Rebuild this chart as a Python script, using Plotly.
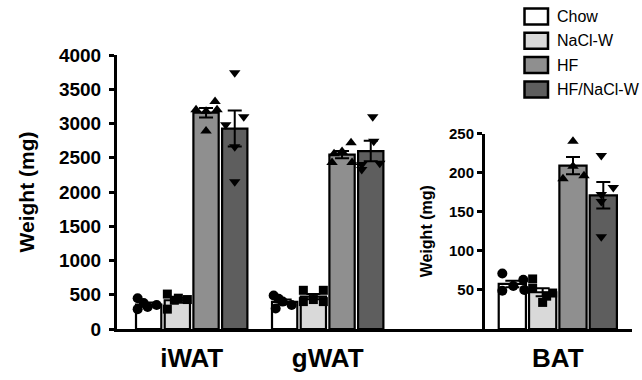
import plotly.graph_objects as go

# ---------------- data ----------------
groups = ["iWAT", "gWAT", "BAT"]
series = ["Chow", "NaCl-W", "HF", "HF/NaCl-W"]

mean_chow = [358, 396, 57.6]
mean_nacl = [420, 472, 47]
mean_hf = [3158, 2546, 209]
mean_hfnacl = [2926, 2598, 171]

sem_chow = [30, 34, 4.2]
sem_nacl = [37, 38, 5]
sem_hf = [70, 54, 11]
sem_hfnacl = [262, 150, 17]

pts_chow = [[450, 290, 320, 350, 380], [490, 300, 400, 350, 440], [71, 49, 55, 63, 50]]
pts_nacl = [[510, 290, 450, 430, 420], [565, 400, 565, 400, 430], [64, 52, 34, 46, 42]]
pts_hf = [[3200, 3320, 3200, 2890, 3180], [2430, 2430, 2590, 2720, 2560], [240, 192, 196, 208]]
pts_hfnacl = [[3740, 3100, 2980, 2660, 2150], [3100, 2740, 2420, 2400, 2330], [222, 181, 172, 163, 118]]

main_ticks = [0, 500, 1000, 1500, 2000, 2500, 3000, 3500, 4000]
bat_ticks = [50, 100, 150, 200, 250]

# ---------------- styling / layout ----------------
colors = ["#ffffff", "#d9d9d9", "#8f8f8f", "#5e5e5e"]
symbols = ["circle", "square", "triangle-up", "triangle-down"]
msizes = [10, 9, 10, 10]
FONT = "Liberation Sans, Arial, sans-serif"

# horizontal jitter of dots (pixels) - purely visual placement
jit_chow = [[-11, -11, -1, 8, -5], [-11, -9, -2, 7, -6], [-10, -10, 1, 11, 12]]
jit_nacl = [[-10, -10, 1, 10, -3], [-10, -10, 10, 10, 0], [-10, -10, 0, 10, 4]]
jit_hf = [[-10, 9, 11, 0, 0], [-10, 10, 0, 9, -8], [0, -10, 11, 0]]
jit_hfnacl = [[0, 9, -9, 0, 0], [2, 3, 9, -9, -9], [-2, 10, -2, -2, -2]]

L, R, T, B = 117, 10, 55, 51
WIDTH, HEIGHT = 642, 380
PW, PH = WIDTH - L - R, HEIGHT - T - B
PX_PER_UNIT = 136.0
group_pos = [0.0, 1.0, 2.692]
step = [0.211, 0.211, 0.223]
bwidth = [0.186, 0.186, 0.200]
x_lo = -(191.7 - L) / PX_PER_UNIT
x_hi = x_lo + PW / PX_PER_UNIT
bat_axis_px = 483
bat_top_px = 133.5

means = [mean_chow, mean_nacl, mean_hf, mean_hfnacl]
sems = [sem_chow, sem_nacl, sem_hf, sem_hfnacl]
pts = [pts_chow, pts_nacl, pts_hf, pts_hfnacl]
jits = [jit_chow, jit_nacl, jit_hf, jit_hfnacl]

fig = go.Figure()

for s in range(4):
    for part, gidx, yax in (("main", [0, 1], "y"), ("bat", [2], "y2")):
        xs = [group_pos[g] + (s - 1.5) * step[g] for g in gidx]
        fig.add_trace(go.Bar(
            x=xs, y=[means[s][g] for g in gidx],
            width=[bwidth[g] for g in gidx],
            marker=dict(color=colors[s], line=dict(color="black", width=2.2)),
            error_y=dict(type="data", array=[sems[s][g] for g in gidx],
                         color="black", thickness=2, width=7),
            xaxis="x", yaxis=yax, showlegend=False, name=series[s],
        ))
for s in range(4):
    for part, gidx, yax in (("main", [0, 1], "y"), ("bat", [2], "y2")):
        xs, ys = [], []
        for g in gidx:
            c = group_pos[g] + (s - 1.5) * step[g]
            for v, j in zip(pts[s][g], jits[s][g]):
                xs.append(c + j / PX_PER_UNIT)
                ys.append(v)
        fig.add_trace(go.Scatter(
            x=xs, y=ys, mode="markers",
            marker=dict(symbol=symbols[s], size=msizes[s], color="black", line=dict(width=0)),
            xaxis="x", yaxis=yax, showlegend=False, name=series[s], cliponaxis=False,
        ))

fig.update_layout(
    width=WIDTH, height=HEIGHT,
    margin=dict(l=L, r=R, t=T, b=B, autoexpand=False),
    paper_bgcolor="white", plot_bgcolor="rgba(0,0,0,0)",
    font=dict(family=FONT, color="black"),
    barmode="overlay",
    xaxis=dict(
        range=[x_lo, x_hi], showgrid=False, zeroline=False, automargin=False,
        showline=True, linecolor="black", linewidth=3,
        tickmode="array", tickvals=group_pos, ticktext=groups, ticks="",
        tickfont=dict(size=26, family=FONT, weight="bold"),
        ticklabelstandoff=4,
    ),
    yaxis=dict(
        range=[0, 4000], domain=[0, 1], showgrid=False, zeroline=False, automargin=False,
        showline=True, linecolor="black", linewidth=3,
        tickmode="array", tickvals=main_ticks,
        ticks="outside", ticklen=5, tickwidth=2.5, tickcolor="black",
        tickfont=dict(size=19, family=FONT, weight="bold"),
        ticklabelstandoff=4,
        title=dict(text="Weight (mg)", font=dict(size=21, family=FONT, weight="bold"), standoff=19),
    ),
    yaxis2=dict(
        range=[0, 250], domain=[0, (T + PH - bat_top_px) / PH],
        anchor="free", position=(bat_axis_px - L) / PW, automargin=False,
        showgrid=False, zeroline=False,
        showline=True, linecolor="black", linewidth=3,
        tickmode="array", tickvals=bat_ticks,
        ticks="outside", ticklen=5, tickwidth=2.5, tickcolor="black",
        tickfont=dict(size=15, family=FONT, weight="bold"),
        title=dict(text="Weight (mg)", font=dict(size=16, family=FONT, weight="bold"), standoff=11),
    ),
)

# legend drawn as boxes + text
def px_x(p):
    return (p - L) / PW

def px_y(p):
    return (T + PH - p) / PH

for i, name in enumerate(series):
    top = 8.5 + 24.3 * i
    fig.add_shape(type="rect", xref="paper", yref="paper",
                  x0=px_x(524.5), x1=px_x(548), y0=px_y(top + 16), y1=px_y(top),
                  fillcolor=colors[i], line=dict(color="black", width=2.5))
    fig.add_annotation(xref="paper", yref="paper", x=px_x(555), y=px_y(top + 8),
                       text=name, showarrow=False, xanchor="left", yanchor="middle",
                       font=dict(size=16, family=FONT, color="black"))

fig.write_html("out.html", config={"displayModeBar": False},
               post_script="document.body.style.margin='0';document.body.style.padding='0';")
